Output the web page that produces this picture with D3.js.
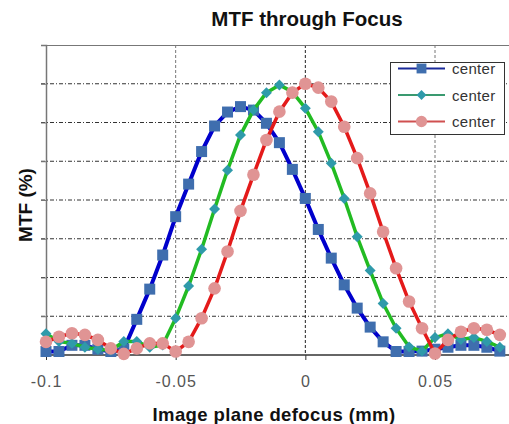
<!DOCTYPE html>
<html><head><meta charset="utf-8">
<script src="https://cdn.jsdelivr.net/npm/d3@7"></script>
<style>body{margin:0;background:#fff}svg{display:block}</style>
</head><body>
<svg id="c" width="509" height="424"></svg>
<script>
const defocus = [-0.1,-0.095,-0.09,-0.085,-0.08,-0.075,-0.07,-0.065,-0.06,-0.055,-0.05,-0.045,-0.04,-0.035,-0.03,-0.025,-0.02,-0.015,-0.01,-0.005,0,0.005,0.01,0.015,0.02,0.025,0.03,0.035,0.04,0.045,0.05,0.055,0.06,0.065,0.07,0.075];
const seriesBlue = [0.9,0.9,2.5,2.5,1.5,0.9,1.5,9.2,17.0,25.8,35.7,44.1,52.5,59.1,62.7,64.1,63.2,59.8,54.8,47.9,40.4,32.4,25.0,18.1,12.1,7.2,3.4,0.9,0.9,1.0,1.5,2.0,2.5,2.5,2.0,1.0];
const seriesGreen = [5.5,3.5,3.0,2.0,1.5,1.2,3.5,3.5,2.0,2.6,9.5,17.8,27.3,37.7,47.7,56.8,63.2,67.7,69.7,67.9,63.7,57.6,49.5,40.4,30.5,21.8,13.3,6.9,2.1,1.0,4.5,5.5,4.0,4.5,3.5,2.0];
const seriesRed = [3.4,4.7,5.6,5.2,3.9,1.7,0.3,1.7,3.0,3.0,0.9,3.4,9.5,17.2,26.7,37.2,46.5,55.5,62.8,67.7,70.0,69.0,65.4,58.9,50.8,41.7,31.8,22.4,13.8,6.9,0.4,3.9,6.0,6.9,6.5,5.2];
const seriesNames = ["center","center","center"];
const xTicks = [-0.1,-0.05,0,0.05];
const xTickLabels = ["-0.1","-0.05","0","0.05"];
const yTicks = [0,10,20,30,40,50,60,70,80];

const svg = d3.select("#c");
const L = 46, T = 45, B = 355, Rw = 509;
const x = d3.scaleLinear().domain([-0.1, 0.05]).range([L, 435]);
const y = d3.scaleLinear().domain([0, 80]).range([B, T]);

// title
svg.append("text").attr("x", 307).attr("y", 26).attr("text-anchor","middle")
  .attr("font-family","Liberation Sans, Arial, sans-serif").attr("font-weight","bold")
  .attr("font-size", 20.5).attr("fill","#111").text("MTF through Focus");

// horizontal grid
svg.append("g").selectAll("line").data(yTicks.filter(d=>d>0 && d<80)).join("line")
  .attr("x1", L-5).attr("x2", Rw).attr("y1", d=>y(d)).attr("y2", d=>y(d))
  .attr("stroke","#333").attr("stroke-width",1).attr("stroke-dasharray","4,2,1,2");
// vertical grid
svg.append("g").selectAll("line").data(xTicks.filter(d=>d>-0.1)).join("line")
  .attr("x1", d=>x(d)).attr("x2", d=>x(d)).attr("y1", T).attr("y2", B)
  .attr("stroke", d=> d===0 ? "#222" : "#777").attr("stroke-width",1).attr("stroke-dasharray","3,2");

// frame: top border
svg.append("line").attr("x1",L).attr("x2",Rw).attr("y1",T+0.5).attr("y2",T+0.5).attr("stroke","#777").attr("stroke-width",1.2);

// y axis
const yAxis = d3.axisLeft(y).tickValues(yTicks).tickSize(5).tickFormat("");
const gy = svg.append("g").attr("transform",`translate(${L},0)`).call(yAxis);
gy.select(".domain").attr("stroke","#777").attr("stroke-width",1.5);
gy.selectAll(".tick line").attr("stroke","#777");

// x axis
const xAxis = d3.axisBottom(x).tickValues(xTicks).tickSize(5).tickFormat((d,i)=>xTickLabels[i]);
const gx = svg.append("g").attr("transform",`translate(0,${B})`).call(xAxis);
gx.select(".domain").remove();
gx.append("line").attr("x1",L).attr("x2",Rw).attr("y1",0).attr("y2",0).attr("stroke","#333").attr("stroke-width",1.5);
gx.selectAll(".tick line").attr("stroke","#333");
gx.selectAll(".tick text").attr("font-family","Liberation Sans, Arial, sans-serif")
  .attr("font-size",16).attr("fill","#555").attr("letter-spacing","1px").attr("dy","1.5em");

// axis labels
svg.append("text").attr("x", 274).attr("y", 421).attr("text-anchor","middle")
  .attr("font-family","Liberation Sans, Arial, sans-serif").attr("font-weight","bold")
  .attr("font-size", 18.5).attr("letter-spacing","0.4px").attr("fill","#111").text("Image plane defocus (mm)");
svg.append("text").attr("transform","translate(32,205) rotate(-90)").attr("text-anchor","middle")
  .attr("font-family","Liberation Sans, Arial, sans-serif").attr("font-weight","bold")
  .attr("font-size", 19).attr("fill","#111").text("MTF (%)");

const rhombus = { draw(ctx, size){ const r = Math.sqrt(size/2); ctx.moveTo(0,-r); ctx.lineTo(r,0); ctx.lineTo(0,r); ctx.lineTo(-r,0); ctx.closePath(); } };
const series = [
  {vals: seriesBlue, line:"#0000cc", lw:4, mark:"#3f6eae", sym:d3.symbolSquare, size:121},
  {vals: seriesGreen, line:"#22bb22", lw:3.5, mark:"#2f9aaa", sym:rhombus, size:60},
  {vals: seriesRed, line:"#e41a1a", lw:3.5, mark:"#e09494", sym:d3.symbolCircle, size:125}
];
const lineGen = d3.line().x((d,i)=>x(defocus[i])).y(d=>y(d));
series.forEach(s=>{
  const g = svg.append("g");
  g.append("path").attr("d", lineGen(s.vals)).attr("fill","none").attr("stroke",s.line).attr("stroke-width",s.lw).attr("stroke-linejoin","round");
  g.selectAll("path.m").data(s.vals).join("path").attr("class","m")
    .attr("transform",(d,i)=>`translate(${x(defocus[i])},${y(d)})`)
    .attr("d", d3.symbol().type(s.sym).size(s.size)()).attr("fill", s.mark);
});

// legend
const lg = svg.append("g");
lg.append("rect").attr("x",390.5).attr("y",62.5).attr("width",114).attr("height",72)
  .attr("fill","#fff").attr("stroke","#333").attr("stroke-width",1);
const legLineCols = ["#1a2a9a","#3a9a70","#d05050"];
[68.5, 95, 121.5].forEach((ly,i)=>{
  const s = series[i];
  lg.append("line").attr("x1",398).attr("x2",445).attr("y1",ly).attr("y2",ly).attr("stroke",legLineCols[i]).attr("stroke-width",2);
  lg.append("path").attr("transform",`translate(421.5,${ly})`).attr("d", d3.symbol().type(s.sym).size(s.size*0.8)()).attr("fill",s.mark);
  lg.append("text").attr("x",452).attr("y",ly+5.5).attr("font-family","Liberation Sans, Arial, sans-serif")
    .attr("font-size",15).attr("fill","#333").attr("letter-spacing","0.3px").text(seriesNames[i]);
});
</script>
</body></html>
